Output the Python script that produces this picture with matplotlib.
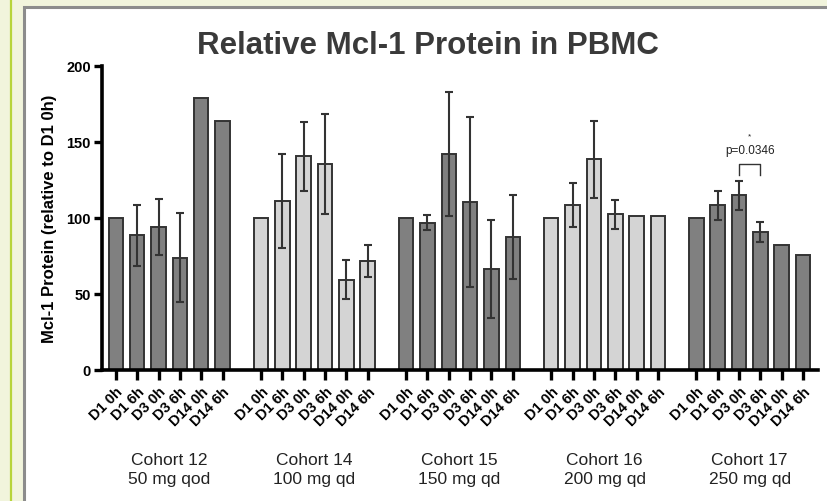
#!/usr/bin/env python3
"""Relative Mcl-1 protein in PBMC, grouped bars per cohort."""

import numpy as np
import matplotlib.pyplot as plt
from matplotlib.patches import Rectangle
from matplotlib.lines import Line2D
import matplotlib.transforms as mtransforms

plt.rcParams['font.family'] = ['Liberation Sans', 'DejaVu Sans']

timepoints = ['D1 0h', 'D1 6h', 'D3 0h', 'D3 6h', 'D14 0h', 'D14 6h']
cohort_names = ['Cohort 12', 'Cohort 14', 'Cohort 15', 'Cohort 16', 'Cohort 17']
cohort_doses = ['50 mg qod', '100 mg qd', '150 mg qd', '200 mg qd', '250 mg qd']

# mean values (% of D1 0h)
c12_mean = [100, 88.5, 94, 74, 179, 164]
c14_mean = [100, 111, 140.5, 135.5, 59.5, 72]
c15_mean = [100, 97, 142, 110.5, 66.5, 87.5]
c16_mean = [100, 108.5, 138.5, 102.5, 101, 101.5]
c17_mean = [100, 108.5, 115, 91, 82, 75.5]

# error bar half-widths (nan = no error bar)
c12_err = [np.nan, 20, 18.5, 29, np.nan, np.nan]
c14_err = [np.nan, 31, 22.5, 33, 12.8, 10.5]
c15_err = [np.nan, 5, 41, 56, 32, 27.5]
c16_err = [np.nan, 14.5, 25.5, 9.5, np.nan, np.nan]
c17_err = [np.nan, 9.5, 9.5, 6.5, np.nan, np.nan]

means = [c12_mean, c14_mean, c15_mean, c16_mean, c17_mean]
errs = [c12_err, c14_err, c15_err, c16_err, c17_err]

DARK = '#808080'
LIGHT = '#d4d4d4'
EDGE = '#333333'
group_colors = [DARK, LIGHT, DARK, LIGHT, DARK]

GROUP_STEP = 6.8

fig = plt.figure(figsize=(8.28, 5.02), dpi=100)
fig.patch.set_facecolor('#f1f4dc')

# white panel with grey frame and green line on the left
fig.add_artist(Rectangle((24.5 / 828, -0.01), 1.0, (502 - 7.5) / 502 + 0.01,
                         transform=fig.transFigure, facecolor='white',
                         edgecolor='#8c8c8c', linewidth=2.2, zorder=0))
fig.add_artist(Line2D([11 / 828, 11 / 828], [0, 1], transform=fig.transFigure,
                      color='#b7d43a', linewidth=1.6, zorder=0))

ax = fig.add_axes([102 / 828, (502 - 371) / 502, 716 / 828, 304 / 502])
ax.set_facecolor('none')

xpos_all = []
for g, (m, e) in enumerate(zip(means, errs)):
    x = g * GROUP_STEP + np.arange(len(timepoints))
    xpos_all.extend(x)
    ax.bar(x, m, width=0.68, color=group_colors[g], edgecolor=EDGE,
           linewidth=1.4, zorder=2)
    e = np.array(e, dtype=float)
    ok = ~np.isnan(e)
    if ok.any():
        ax.errorbar(x[ok], np.array(m)[ok], yerr=e[ok], fmt='none',
                    ecolor=EDGE, elinewidth=1.5, capsize=3.2, capthick=1.5,
                    zorder=3)

# significance bracket, cohort 17 D3 0h vs D3 6h
xa = 4 * GROUP_STEP + 2
xb = 4 * GROUP_STEP + 3
ax.plot([xa, xa, xb, xb], [128.5, 135.7, 135.7, 128.5], color=EDGE,
        linewidth=1.0, zorder=3)
ax.text((xa + xb) / 2, 140.5, 'p=0.0346', ha='center', va='bottom',
        fontsize=8.5, color='#222222')
ax.text((xa + xb) / 2, 152, '*', ha='center', va='bottom', fontsize=6,
        color='#222222')

ax.set_xlim(-0.65, 4 * GROUP_STEP + 5 + 0.7)
ax.set_ylim(0, 200)
ax.set_yticks([0, 50, 100, 150, 200])
ax.set_xticks(xpos_all)
ax.set_xticklabels(timepoints * len(means), rotation=45, ha='right',
                   rotation_mode='anchor', fontsize=10.5, fontweight='bold')
for lab in ax.get_yticklabels():
    lab.set_fontweight('bold')
    lab.set_fontsize(10.5)

for side in ['top', 'right']:
    ax.spines[side].set_visible(False)
for side in ['left', 'bottom']:
    ax.spines[side].set_linewidth(2.6)
    ax.spines[side].set_color('black')
ax.tick_params(axis='y', length=6, width=2.4, pad=2)
ax.tick_params(axis='x', length=7, width=2.4, pad=3)

ax.set_ylabel('Mcl-1 Protein (relative to D1 0h)', fontsize=12,
              fontweight='bold', labelpad=7)

trans = mtransforms.blended_transform_factory(ax.transData, ax.transAxes)
for g in range(len(means)):
    xc = g * GROUP_STEP + 2.5
    ax.text(xc, -0.293, cohort_names[g], transform=trans, ha='center',
            va='center', fontsize=12.5, color='#222222')
    ax.text(xc, -0.358, cohort_doses[g], transform=trans, ha='center',
            va='center', fontsize=12.5, color='#222222')

fig.text(428 / 828, 1 - 46 / 502, 'Relative Mcl-1 Protein in PBMC',
         ha='center', va='center', fontsize=22.5, fontweight='bold',
         color='#3a3a3a')

fig.savefig('out.png', dpi=100, facecolor=fig.get_facecolor())
